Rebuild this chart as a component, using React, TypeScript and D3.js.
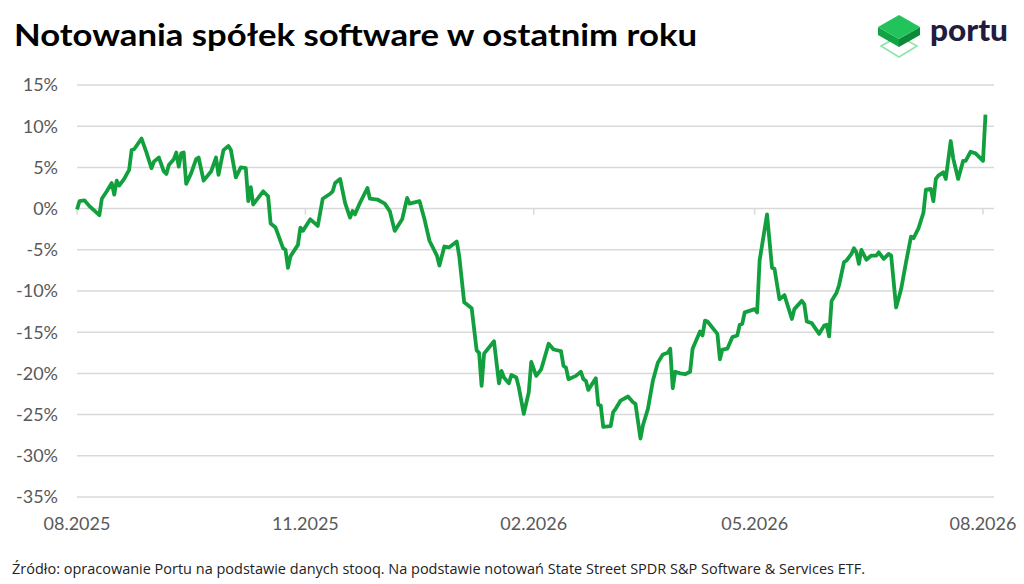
import React from 'react';
import * as d3 from 'd3';

const W = 1024;
const H = 584;

// first session of the window, series below is counted in calendar days from it
const START = new Date(2025, 7, 1);

const tradingDay = [
  0, 1, 3, 5, 9, 10, 12, 14, 15, 16, 17, 19, 21, 22, 23, 26, 28, 30, 31, 33,
  35, 36, 37, 39, 40, 41, 42, 43, 44, 46, 48, 49, 51, 54, 56, 57, 59, 61, 62, 64,
  66, 68, 69, 70, 71, 73, 75, 77, 78, 80, 83, 84, 85, 86, 89, 90, 91, 94, 97, 99,
  102, 103, 104, 106, 108, 110, 111, 112, 114, 117, 118, 121, 124, 126, 128, 131, 133, 134, 138, 140,
  142, 145, 146, 148, 150, 153, 154, 156, 157, 159, 161, 162, 163, 164, 168, 170, 171, 172, 174, 175,
  177, 178, 180, 182, 183, 185, 187, 188, 190, 192, 195, 196, 197, 198, 201, 203, 204, 205, 206, 209,
  210, 211, 212, 215, 216, 217, 219, 222, 224, 225, 227, 228, 230, 232, 234, 236, 238, 239, 240, 241,
  243, 245, 247, 248, 250, 251, 252, 253, 254, 258, 259, 260, 262, 264, 266, 267, 268, 269, 270, 273,
  274, 275, 278, 280, 281, 283, 285, 288, 289, 292, 293, 294, 296, 299, 301, 302, 303, 304, 306, 307,
  309, 310, 312, 313, 314, 315, 316, 318, 320, 322, 323, 325, 327, 328, 330, 332, 334, 336, 337, 339,
  341, 342, 344, 345, 346, 347, 349, 350, 352, 353, 355, 357, 358, 360, 362, 365, 366,
];

// % change vs. start of window
const change = [
  -0.1, 0.9, 1.0, 0.3, -0.8, 1.2, 2.1, 3.1, 1.7, 3.4, 2.8, 3.6, 4.7, 7.1, 7.2, 8.5, 6.8, 4.9, 5.7, 6.2,
  4.5, 4.2, 5.3, 6.0, 6.8, 5.1, 6.7, 6.8, 3.0, 4.3, 6.0, 6.2, 3.4, 4.5, 6.2, 4.1, 7.1, 7.6, 7.1, 3.8,
  5.0, 4.9, 0.9, 2.6, 0.5, 1.3, 2.1, 1.5, -1.8, -2.3, -4.8, -5.0, -7.2, -5.8, -4.4, -2.3, -2.7, -1.3, -2.1, 1.2,
  1.8, 2.1, 3.1, 3.6, 0.7, -1.1, -0.3, -0.7, 0.7, 2.5, 1.2, 1.1, 0.6, -0.3, -2.7, -1.3, 1.3, 0.6, 0.9, -1.3,
  -3.9, -5.7, -6.9, -4.6, -4.7, -4.0, -5.8, -11.4, -11.6, -12.1, -17.2, -17.5, -21.5, -17.6, -16.1, -21.2, -19.7, -20.5, -21.2, -20.2,
  -20.5, -21.7, -24.9, -22.3, -18.6, -20.3, -19.5, -18.5, -16.4, -17.1, -17.3, -19.1, -19.3, -20.7, -20.3, -19.8, -20.7, -20.9, -22.0, -20.6,
  -23.8, -23.9, -26.5, -26.4, -24.7, -24.3, -23.3, -22.8, -23.5, -23.7, -27.9, -26.3, -24.3, -20.9, -18.7, -17.7, -17.5, -17.0, -21.8, -19.8,
  -20.0, -20.1, -19.8, -17.0, -15.6, -14.9, -15.4, -13.6, -13.7, -15.2, -18.3, -17.1, -17.0, -15.6, -15.4, -14.1, -14.0, -12.6, -12.5, -12.2,
  -12.6, -6.3, -0.7, -7.2, -7.3, -11.0, -10.5, -13.4, -12.2, -11.2, -11.6, -13.7, -13.9, -15.2, -14.2, -14.1, -15.5, -11.2, -10.2, -9.3,
  -6.5, -6.3, -5.5, -4.8, -5.3, -6.7, -5.0, -6.2, -5.7, -5.7, -5.3, -6.1, -5.5, -5.7, -12.0, -9.8, -6.5, -3.4, -3.6, -2.4,
  -0.5, 2.3, 2.4, 0.9, 3.6, 4.0, 4.4, 3.6, 8.2, 6.1, 3.6, 5.8, 5.8, 6.9, 6.7, 5.8, 11.4,
];

const yTicks = [15, 10, 5, 0, -5, -10, -15, -20, -25, -30, -35];
// one label every third month from the start of the window
const xTickMonths = [0, 3, 6, 9, 12];
const xTickLabels = ['08.2025', '11.2025', '02.2026', '05.2026', '08.2026'];

const TITLE = 'Notowania spółek software w ostatnim roku';
const SOURCE =
  'Źródło: opracowanie Portu na podstawie danych stooq. Na podstawie notowań State Street SPDR S&P Software & Services ETF.';

const LINE_GREEN = '#12a03f';
const GRID = '#d9d9d9';
const AXIS_TEXT = '#595959';

const plot = { left: 77, right: 983, gridRight: 994, top: 85, bottom: 497 };

export default function App() {
  const end = d3.timeMonth.offset(START, 12);
  const x = d3.scaleTime().domain([START, end]).range([plot.left, plot.right]);
  const y = d3.scaleLinear().domain([-35, 15]).range([plot.bottom, plot.top]);

  const points = tradingDay.map((d, i) => ({ date: d3.timeDay.offset(START, d), v: change[i] }));
  const path = d3
    .line<{ date: Date; v: number }>()
    .x((d) => x(d.date))
    .y((d) => y(d.v))(points);

  const monthTicks = xTickMonths.map((k) => d3.timeMonth.offset(START, k));

  return (
    <svg
      width={W}
      height={H}
      style={{ position: 'absolute', left: 0, top: 0, background: '#fff' }}
      fontFamily="Lato, 'Open Sans', sans-serif"
    >
      <text x={14} y={46} fontSize={30} fontWeight={700} fill="#000" textLength={683} lengthAdjust="spacingAndGlyphs">
        {TITLE}
      </text>

      {/* logo */}
      <g>
        <polygon points="881,46 899,36 917,46 899,57" fill="none" stroke="#8ee5a8" strokeWidth={1.6} />
        <polygon points="878,27 899,39 899,47 878,35" fill="#12a444" />
        <polygon points="899,39 920,27 920,35 899,47" fill="#0c8a37" />
        <polygon points="899,15 920,27 899,39 878,27" fill="#22c35a" />
        <text x={930} y={41} fontSize={30} fontWeight={900} fill="#231c3f" textLength={78} lengthAdjust="spacingAndGlyphs">
          portu
        </text>
      </g>

      {/* gridlines and y labels */}
      {yTicks.map((t) => (
        <g key={t}>
          <line x1={plot.left} x2={plot.gridRight} y1={y(t)} y2={y(t)} stroke={GRID} strokeWidth={1.5} />
          <text x={58} y={y(t)} dy="0.36em" textAnchor="end" fontSize={18} fill={AXIS_TEXT}>
            {`${t}%`}
          </text>
        </g>
      ))}

      {/* category ticks on the zero line */}
      {monthTicks.map((m) => (
        <line key={+m} x1={x(m)} x2={x(m)} y1={y(0)} y2={y(0) + 6} stroke={GRID} strokeWidth={1.5} />
      ))}

      {monthTicks.map((m, i) => (
        <text key={`l${+m}`} x={x(m)} y={530} textAnchor="middle" fontSize={18} fill={AXIS_TEXT}>
          {xTickLabels[i]}
        </text>
      ))}

      <path d={path ?? ''} fill="none" stroke={LINE_GREEN} strokeWidth={3.8} strokeLinejoin="round" />

      <text
        x={12}
        y={574}
        fontSize={14}
        fill="#222"
        fontFamily="'Open Sans', sans-serif"
        textLength={853}
        lengthAdjust="spacingAndGlyphs"
      >
        {SOURCE}
      </text>
    </svg>
  );
}
